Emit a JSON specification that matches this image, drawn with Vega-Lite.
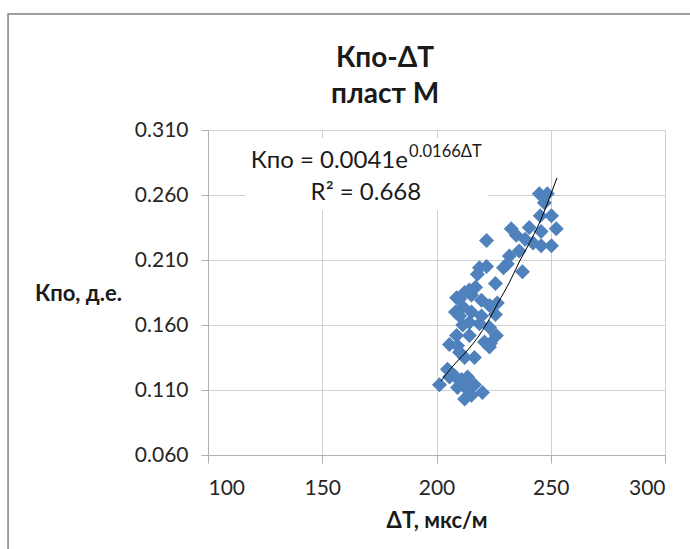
{
  "$schema": "https://vega.github.io/schema/vega-lite/v6.json",
  "width": 457,
  "height": 325,
  "autosize": {"type": "none"},
  "padding": {"left": 208, "top": 130, "right": 25, "bottom": 94},
  "background": "white",
  "config": {
    "font": "Lato",
    "view": {"stroke": null},
    "axis": {
      "gridColor": "#d0d0d0",
      "domainColor": "#b0b0b0",
      "tickColor": "#b0b0b0",
      "labelFont": "Lato",
      "labelFontSize": 21,
      "labelColor": "#262626",
      "titleFont": "Lato",
      "titleFontSize": 22,
      "titleFontWeight": "bold",
      "titleColor": "#1a1a1a"
    }
  },
  "datasets": {
    "points": [
      {"dT": 245.0, "Kpo": 0.261}, {"dT": 248.5, "Kpo": 0.261}, {"dT": 247.2, "Kpo": 0.254},
      {"dT": 245.4, "Kpo": 0.244}, {"dT": 250.3, "Kpo": 0.244}, {"dT": 252.4, "Kpo": 0.234},
      {"dT": 245.8, "Kpo": 0.232}, {"dT": 250.3, "Kpo": 0.221}, {"dT": 245.8, "Kpo": 0.221},
      {"dT": 232.7, "Kpo": 0.234}, {"dT": 234.9, "Kpo": 0.229}, {"dT": 238.8, "Kpo": 0.226},
      {"dT": 242.3, "Kpo": 0.223}, {"dT": 236.2, "Kpo": 0.217}, {"dT": 231.9, "Kpo": 0.213},
      {"dT": 231.0, "Kpo": 0.207}, {"dT": 221.9, "Kpo": 0.225}, {"dT": 218.8, "Kpo": 0.204},
      {"dT": 221.9, "Kpo": 0.205}, {"dT": 229.3, "Kpo": 0.204}, {"dT": 237.6, "Kpo": 0.201},
      {"dT": 225.8, "Kpo": 0.192}, {"dT": 226.6, "Kpo": 0.177}, {"dT": 217.9, "Kpo": 0.199},
      {"dT": 214.4, "Kpo": 0.187}, {"dT": 210.1, "Kpo": 0.180}, {"dT": 215.3, "Kpo": 0.183},
      {"dT": 219.7, "Kpo": 0.179}, {"dT": 223.2, "Kpo": 0.175}, {"dT": 211.5, "Kpo": 0.174},
      {"dT": 215.3, "Kpo": 0.170}, {"dT": 210.1, "Kpo": 0.167}, {"dT": 219.7, "Kpo": 0.167},
      {"dT": 225.8, "Kpo": 0.168}, {"dT": 211.5, "Kpo": 0.160}, {"dT": 218.8, "Kpo": 0.161},
      {"dT": 223.2, "Kpo": 0.158}, {"dT": 208.8, "Kpo": 0.152}, {"dT": 214.4, "Kpo": 0.152},
      {"dT": 226.2, "Kpo": 0.152}, {"dT": 205.7, "Kpo": 0.145}, {"dT": 221.0, "Kpo": 0.147},
      {"dT": 223.6, "Kpo": 0.146}, {"dT": 209.2, "Kpo": 0.144}, {"dT": 223.2, "Kpo": 0.143},
      {"dT": 212.3, "Kpo": 0.135}, {"dT": 204.8, "Kpo": 0.126}, {"dT": 201.3, "Kpo": 0.114},
      {"dT": 207.9, "Kpo": 0.121}, {"dT": 211.0, "Kpo": 0.118}, {"dT": 213.6, "Kpo": 0.120},
      {"dT": 209.2, "Kpo": 0.112}, {"dT": 213.1, "Kpo": 0.111}, {"dT": 216.6, "Kpo": 0.114},
      {"dT": 212.3, "Kpo": 0.103}, {"dT": 215.3, "Kpo": 0.106}, {"dT": 220.1, "Kpo": 0.108},
      {"dT": 208.8, "Kpo": 0.181}, {"dT": 212.3, "Kpo": 0.185}, {"dT": 217.1, "Kpo": 0.189},
      {"dT": 210.1, "Kpo": 0.139}, {"dT": 216.6, "Kpo": 0.135}, {"dT": 205.7, "Kpo": 0.120},
      {"dT": 208.3, "Kpo": 0.170}, {"dT": 214.4, "Kpo": 0.162}, {"dT": 240.6, "Kpo": 0.235}
    ],
    "trend": [
      {"dT": 202.0, "Kpo": 0.1169}, {"dT": 207.2, "Kpo": 0.1285}, {"dT": 212.9, "Kpo": 0.1392},
      {"dT": 218.2, "Kpo": 0.1508}, {"dT": 222.1, "Kpo": 0.1615}, {"dT": 226.9, "Kpo": 0.1769},
      {"dT": 232.2, "Kpo": 0.1938}, {"dT": 236.5, "Kpo": 0.2095}, {"dT": 240.9, "Kpo": 0.2238},
      {"dT": 245.3, "Kpo": 0.2395}, {"dT": 248.8, "Kpo": 0.2548}, {"dT": 252.7, "Kpo": 0.2731}
    ],
    "one": [{}]
  },
  "encoding": {
    "x": {
      "type": "quantitative",
      "scale": {"domain": [100, 300], "nice": false, "zero": false},
      "axis": {
        "title": "ΔT, мкс/м",
        "values": [100, 150, 200, 250, 300],
        "format": "d",
        "tickSize": 8,
        "labelPadding": 14,
        "titlePadding": 12,
        "grid": true
      }
    },
    "y": {
      "type": "quantitative",
      "scale": {"domain": [0.06, 0.31], "nice": false, "zero": false},
      "axis": {
        "title": "Кпо, д.е.",
        "values": [0.06, 0.11, 0.16, 0.21, 0.26, 0.31],
        "format": ".3f",
        "tickSize": 7,
        "labelPadding": 13,
        "grid": true,
        "titleAngle": 0,
        "titleAlign": "center",
        "titleBaseline": "middle",
        "titleX": -130,
        "titleY": 163
      }
    }
  },
  "layer": [
    {
      "data": {"name": "one"},
      "mark": {"type": "rect", "fill": null, "stroke": "#808080", "strokeWidth": 1.5, "clip": false},
      "encoding": {
        "x": {"datum": 12.5, "type": "quantitative"},
        "x2": {"datum": 324},
        "y": {"datum": 0.3992, "type": "quantitative"},
        "y2": {"datum": -0.0285}
      }
    },
    {
      "data": {"name": "one"},
      "mark": {"type": "rect", "fill": "white", "stroke": null},
      "encoding": {
        "x": {"datum": 116.2, "type": "quantitative"},
        "x2": {"datum": 222.5},
        "y": {"datum": 0.3038, "type": "quantitative"},
        "y2": {"datum": 0.2485}
      }
    },
    {
      "data": {"name": "points"},
      "mark": {"type": "point", "shape": "diamond", "filled": true, "size": 225, "color": "#4F81BD", "opacity": 1},
      "encoding": {
        "x": {"field": "dT"},
        "y": {"field": "Kpo"}
      }
    },
    {
      "data": {"name": "trend"},
      "mark": {"type": "line", "color": "black", "strokeWidth": 1, "interpolate": "monotone"},
      "encoding": {
        "x": {"field": "dT"},
        "y": {"field": "Kpo"}
      }
    },
    {
      "data": {"name": "one"},
      "mark": {"type": "text", "align": "center", "baseline": "alphabetic", "fontSize": 28, "fontWeight": "bold", "font": "Lato", "color": "#1a1a1a", "clip": false},
      "encoding": {
        "x": {"datum": 177.5, "type": "quantitative"},
        "y": {"datum": 0.3585, "type": "quantitative"},
        "text": {"value": "Кпо-ΔT"}
      }
    },
    {
      "data": {"name": "one"},
      "mark": {"type": "text", "align": "center", "baseline": "alphabetic", "fontSize": 28, "fontWeight": "bold", "font": "Lato", "color": "#1a1a1a", "clip": false},
      "encoding": {
        "x": {"datum": 177.5, "type": "quantitative"},
        "y": {"datum": 0.3308, "type": "quantitative"},
        "text": {"value": "пласт М"}
      }
    },
    {
      "data": {"name": "one"},
      "mark": {"type": "text", "align": "right", "baseline": "alphabetic", "fontSize": 24, "font": "Lato", "color": "#1a1a1a"},
      "encoding": {
        "x": {"datum": 187.5, "type": "quantitative"},
        "y": {"datum": 0.2808, "type": "quantitative"},
        "text": {"value": "Кпо = 0.0041e"}
      }
    },
    {
      "data": {"name": "one"},
      "mark": {"type": "text", "align": "left", "baseline": "alphabetic", "fontSize": 16.5, "font": "Lato", "color": "#1a1a1a"},
      "encoding": {
        "x": {"datum": 188.0, "type": "quantitative"},
        "y": {"datum": 0.2895, "type": "quantitative"},
        "text": {"value": "0.0166ΔT"}
      }
    },
    {
      "data": {"name": "one"},
      "mark": {"type": "text", "align": "center", "baseline": "alphabetic", "fontSize": 24, "font": "Lato", "color": "#1a1a1a"},
      "encoding": {
        "x": {"datum": 169.1, "type": "quantitative"},
        "y": {"datum": 0.2562, "type": "quantitative"},
        "text": {"value": "R² = 0.668"}
      }
    }
  ]
}
